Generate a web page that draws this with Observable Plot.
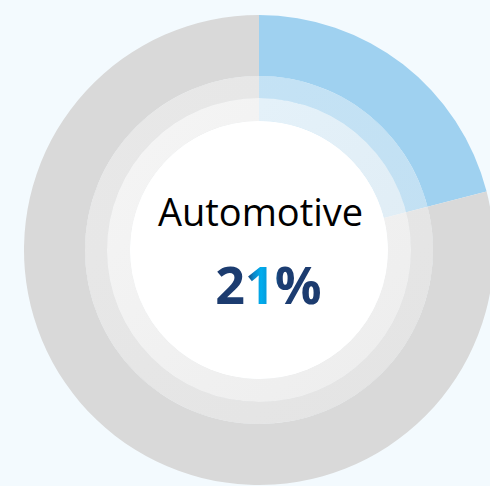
<!DOCTYPE html>
<html>
<head>
<meta charset="utf-8">
<script src="https://cdn.jsdelivr.net/npm/d3@7"></script>
<script src="https://cdn.jsdelivr.net/npm/@observablehq/plot@0.6"></script>
<style>
  html, body { margin: 0; padding: 0; background: #f3fafe; }
  #chart svg { display: block; background: #f3fafe; }
</style>
</head>
<body>
<div id="chart"></div>
<script>
// Data
const categories = ["Automotive", "Other"];
const shares = [21, 79];
const sliceColors = ["#9fd1f0", "#d9d9d9"];
const label = "Automotive";
const valueLabel = "21%";

const data = categories.map((c, i) => ({category: c, share: shares[i], color: sliceColors[i]}));
const pie = d3.pie().value(d => d.share).sort(null)(data);

// rings (radius in data units, centered at 0,0)
const outerR = 235, innerR = 174;
const overlays = [
  {r0: 152, r1: 174, opacity: 0.4},
  {r0: 129, r1: 152, opacity: 0.74},
  {r0: 0, r1: 129, opacity: 1}
];

function donutMark(index, scales) {
  const cx = scales.x(0), cy = scales.y(0);
  const k = Math.abs(scales.x(1) - scales.x(0));
  const g = d3.create("svg:g").attr("transform", `translate(${cx},${cy})`);
  const defs = g.append("defs");
  const grad = defs.append("linearGradient").attr("id", "valGrad")
    .attr("x1", "0").attr("x2", "1").attr("y1", "0").attr("y2", "0");
  [[0, "#1c3b6e"], [0.3, "#1c3d72"], [0.36, "#0a86c8"], [0.43, "#00aeef"], [0.52, "#0a8fd0"], [0.6, "#1c3d72"], [1, "#1c3b6e"]]
    .forEach(([o, c]) => grad.append("stop").attr("offset", o).attr("stop-color", c));
  const wgrad = defs.append("linearGradient").attr("id", "wGrad")
    .attr("x1", "0").attr("x2", "1").attr("y1", "0").attr("y2", "1");
  wgrad.append("stop").attr("offset", 0).attr("stop-color", "#ffffff");
  wgrad.append("stop").attr("offset", 1).attr("stop-color", "#f4f4f4");
  const arc = d3.arc().innerRadius(innerR * k).outerRadius(outerR * k);
  g.selectAll("path.slice").data(pie).join("path")
    .attr("class", "slice")
    .attr("d", arc)
    .attr("fill", d => d.data.color);
  overlays.forEach(o => {
    const a = d3.arc().innerRadius(o.r0 * k).outerRadius(o.r1 * k);
    if (o.r0 === 0) {
      g.append("circle").attr("r", o.r1 * k).attr("fill", "#ffffff");
    } else {
      g.selectAll(null).data(pie).join("path")
        .attr("d", a)
        .attr("fill", d => d.data.color);
      g.append("path")
        .attr("d", a({startAngle: 0, endAngle: 2 * Math.PI}))
        .attr("fill", "url(#wGrad)")
        .attr("fill-opacity", o.opacity);
    }
  });
  return g.node();
}

const chart = Plot.plot({
  width: 490,
  height: 486,
  margin: 0,
  x: {domain: [-259, 231], range: [0, 490], axis: null},
  y: {domain: [-236, 250], range: [486, 0], axis: null},
  style: {background: "#f3fafe"},
  marks: [
    donutMark,
    Plot.text([label], {x: 1, y: 25, text: d => d, fontSize: 38, fill: "#000000",
      fontFamily: "Open Sans", lineAnchor: "bottom"}),
    Plot.text([valueLabel], {x: 9, y: -53, text: d => d, fontSize: 52, fontWeight: "bold",
      fill: "url(#valGrad)", fontFamily: "Open Sans", lineAnchor: "bottom"})
  ]
});
document.getElementById("chart").appendChild(chart);
</script>
</body>
</html>
